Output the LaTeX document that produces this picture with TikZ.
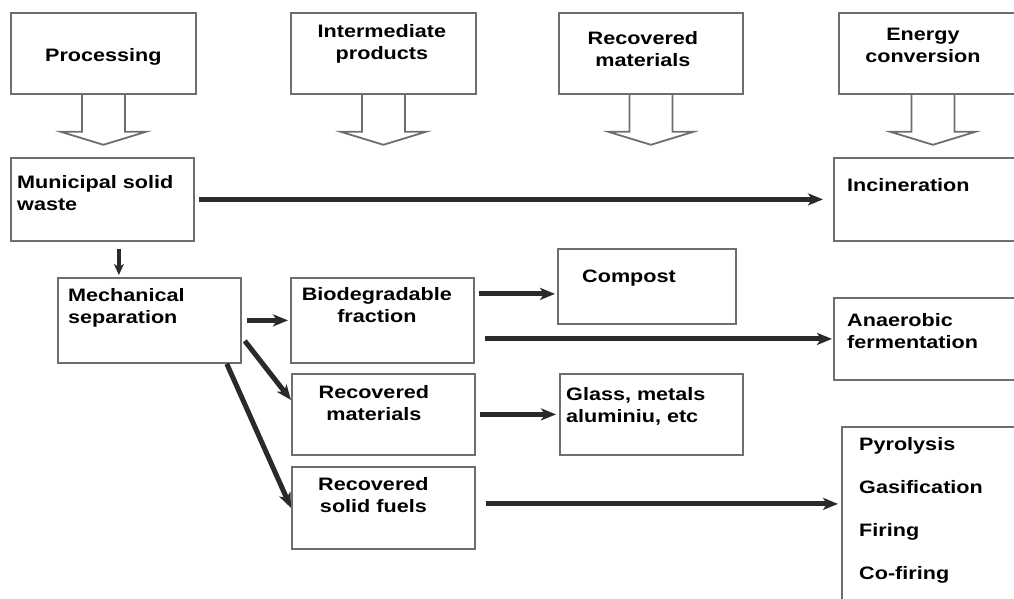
\documentclass[tikz,border=0pt]{standalone}
\usepackage{fontspec}
\setmainfont{Liberation Sans}[FakeStretch=1.2]
\usetikzlibrary{arrows.meta,positioning}
\definecolor{framegray}{HTML}{6E6E6E}
\definecolor{flowgray}{HTML}{2A2A2A}
\tikzset{
  box/.style 2 args={draw=framegray, line width=1.8pt, inner sep=0pt,
    anchor=north west, minimum width=#1, minimum height=#2},
  txt/.style={font=\bfseries\fontsize{18}{22}\selectfont, inner sep=0pt, align=center},
  ltxt/.style={txt, align=left},
  flow/.style={draw=flowgray, line width=5pt,
    -{Stealth[length=15pt,width=12pt,inset=4pt]}},
  thinflow/.style={draw=flowgray, line width=4pt,
    -{Stealth[length=11pt,width=10pt,inset=3pt]}},
  blockarr/.style={draw=framegray, line width=1.8pt, line join=miter},
}
\begin{document}
\begin{tikzpicture}[x=1pt, y=-1pt]
  \useasboundingbox (0,0) rectangle (1014,598);
  \clip (0,0) rectangle (1014,598);
  % column heads
  \node [box={185pt}{81pt}] (proc) at (10,12) {};
  \node [txt, yshift=-3pt] (proct) at (proc) {Processing};
  \node [box={185pt}{81pt}] (inter) at (290,12) {};
  \node [txt, below=12pt of inter.north, xshift=-1.5pt] (intert) {Intermediate\\products};
  \node [box={184pt}{81pt}] (recm) at (558,12) {};
  \node [txt, below=19pt of recm.north, xshift=-8pt] (recmt) {Recovered\\materials};
  \node [box={188pt}{81pt}] (energ) at (838,12) {};
  \node [txt, below=16pt of energ.north, xshift=-10pt] (energt) {Energy\\conversion};
  \foreach \b in {proc,inter,recm,energ}
    \draw [blockarr] ([xshift=-21.5pt]\b.south) -- ++(0,37) -- ++(-21,0)
    -- ++(42.5,13) -- ++(42.5,-13) -- ++(-21,0) -- ++(0,-37);
  % boxes
  \node [box={183pt}{83pt}] (msw) at (10,157) {};
  \node [ltxt, below right=18pt and 7pt of msw.north west] (mswt) {Municipal solid\\waste};
  \node [box={200pt}{83pt}] (incin) at (833,157) {};
  \node [ltxt, below right=21pt and 14pt of incin.north west] (incint) {Incineration};
  \node [box={183pt}{85pt}] (mech) at (57,277) {};
  \node [ltxt, below right=11pt and 11pt of mech.north west] (mecht) {Mechanical\\separation};
  \node [box={183pt}{85pt}] (bio) at (290,277) {};
  \node [txt, below=10pt of bio.north, xshift=-5.5pt] (biot) {Biodegradable\\fraction};
  \node [box={178pt}{75pt}] (comp) at (557,248) {};
  \node [ltxt, below right=22pt and 25pt of comp.north west] (compt) {Compost};
  \node [box={200pt}{82pt}] (anaer) at (833,297) {};
  \node [ltxt, below right=16pt and 14pt of anaer.north west] (anaert) {Anaerobic\\fermentation};
  \node [box={183pt}{81pt}] (rm) at (291,373) {};
  \node [txt, below=12pt of rm.north, xshift=-9.5pt] (rmt) {Recovered\\materials};
  \node [box={183pt}{81pt}] (glass) at (559,373) {};
  \node [ltxt, below right=14pt and 7pt of glass.north west] (glasst) {Glass, metals\\aluminiu, etc};
  \node [box={183pt}{82pt}] (rsf) at (291,466) {};
  \node [txt, below=11pt of rsf.north, xshift=-10pt] (rsft) {Recovered\\solid fuels};
  \node [box={200pt}{200pt}] (pyro) at (841,426) {};
  \node [ltxt, below right=11pt and 18pt of pyro.north west] (pyrot)
    {Pyrolysis\\[21pt]Gasification\\[21pt]Firing\\[21pt]Co-firing};
  % flows
  \draw [flow, shorten <=4pt, shorten >=10pt] (msw.east) -- (incin.west);
  \draw [thinflow, shorten <=7pt, shorten >=2pt]
    ([xshift=16.5pt]msw.south) -- ([xshift=-30.5pt]mech.north);
  \draw [flow, shorten <=5pt, shorten >=2pt] (mech.east) -- (bio.west);
  \coordinate (b1) at ([yshift=26.5pt]bio.east);
  \coordinate (b2) at ([yshift=-18.5pt]bio.east);
  \draw [flow, shorten <=4pt, shorten >=2pt] (b1) -- (b1 -| comp.west);
  \draw [flow, shorten <=10pt, shorten >=1pt] (b2) -- (b2 -| anaer.west);
  \draw [flow] ([xshift=3pt, yshift=-20.5pt]mech.east) -- ([yshift=-27pt]rm.north west);
  \draw [flow] ([xshift=-15pt]mech.south east) -- (rsf.west);
  \draw [flow, shorten <=4pt, shorten >=3pt] (rm.east) -- (glass.west);
  \coordinate (r1) at ([yshift=4pt]rsf.east);
  \draw [flow, shorten <=10pt, shorten >=3pt] (r1) -- (r1 -| pyro.west);
\end{tikzpicture}
\end{document}
